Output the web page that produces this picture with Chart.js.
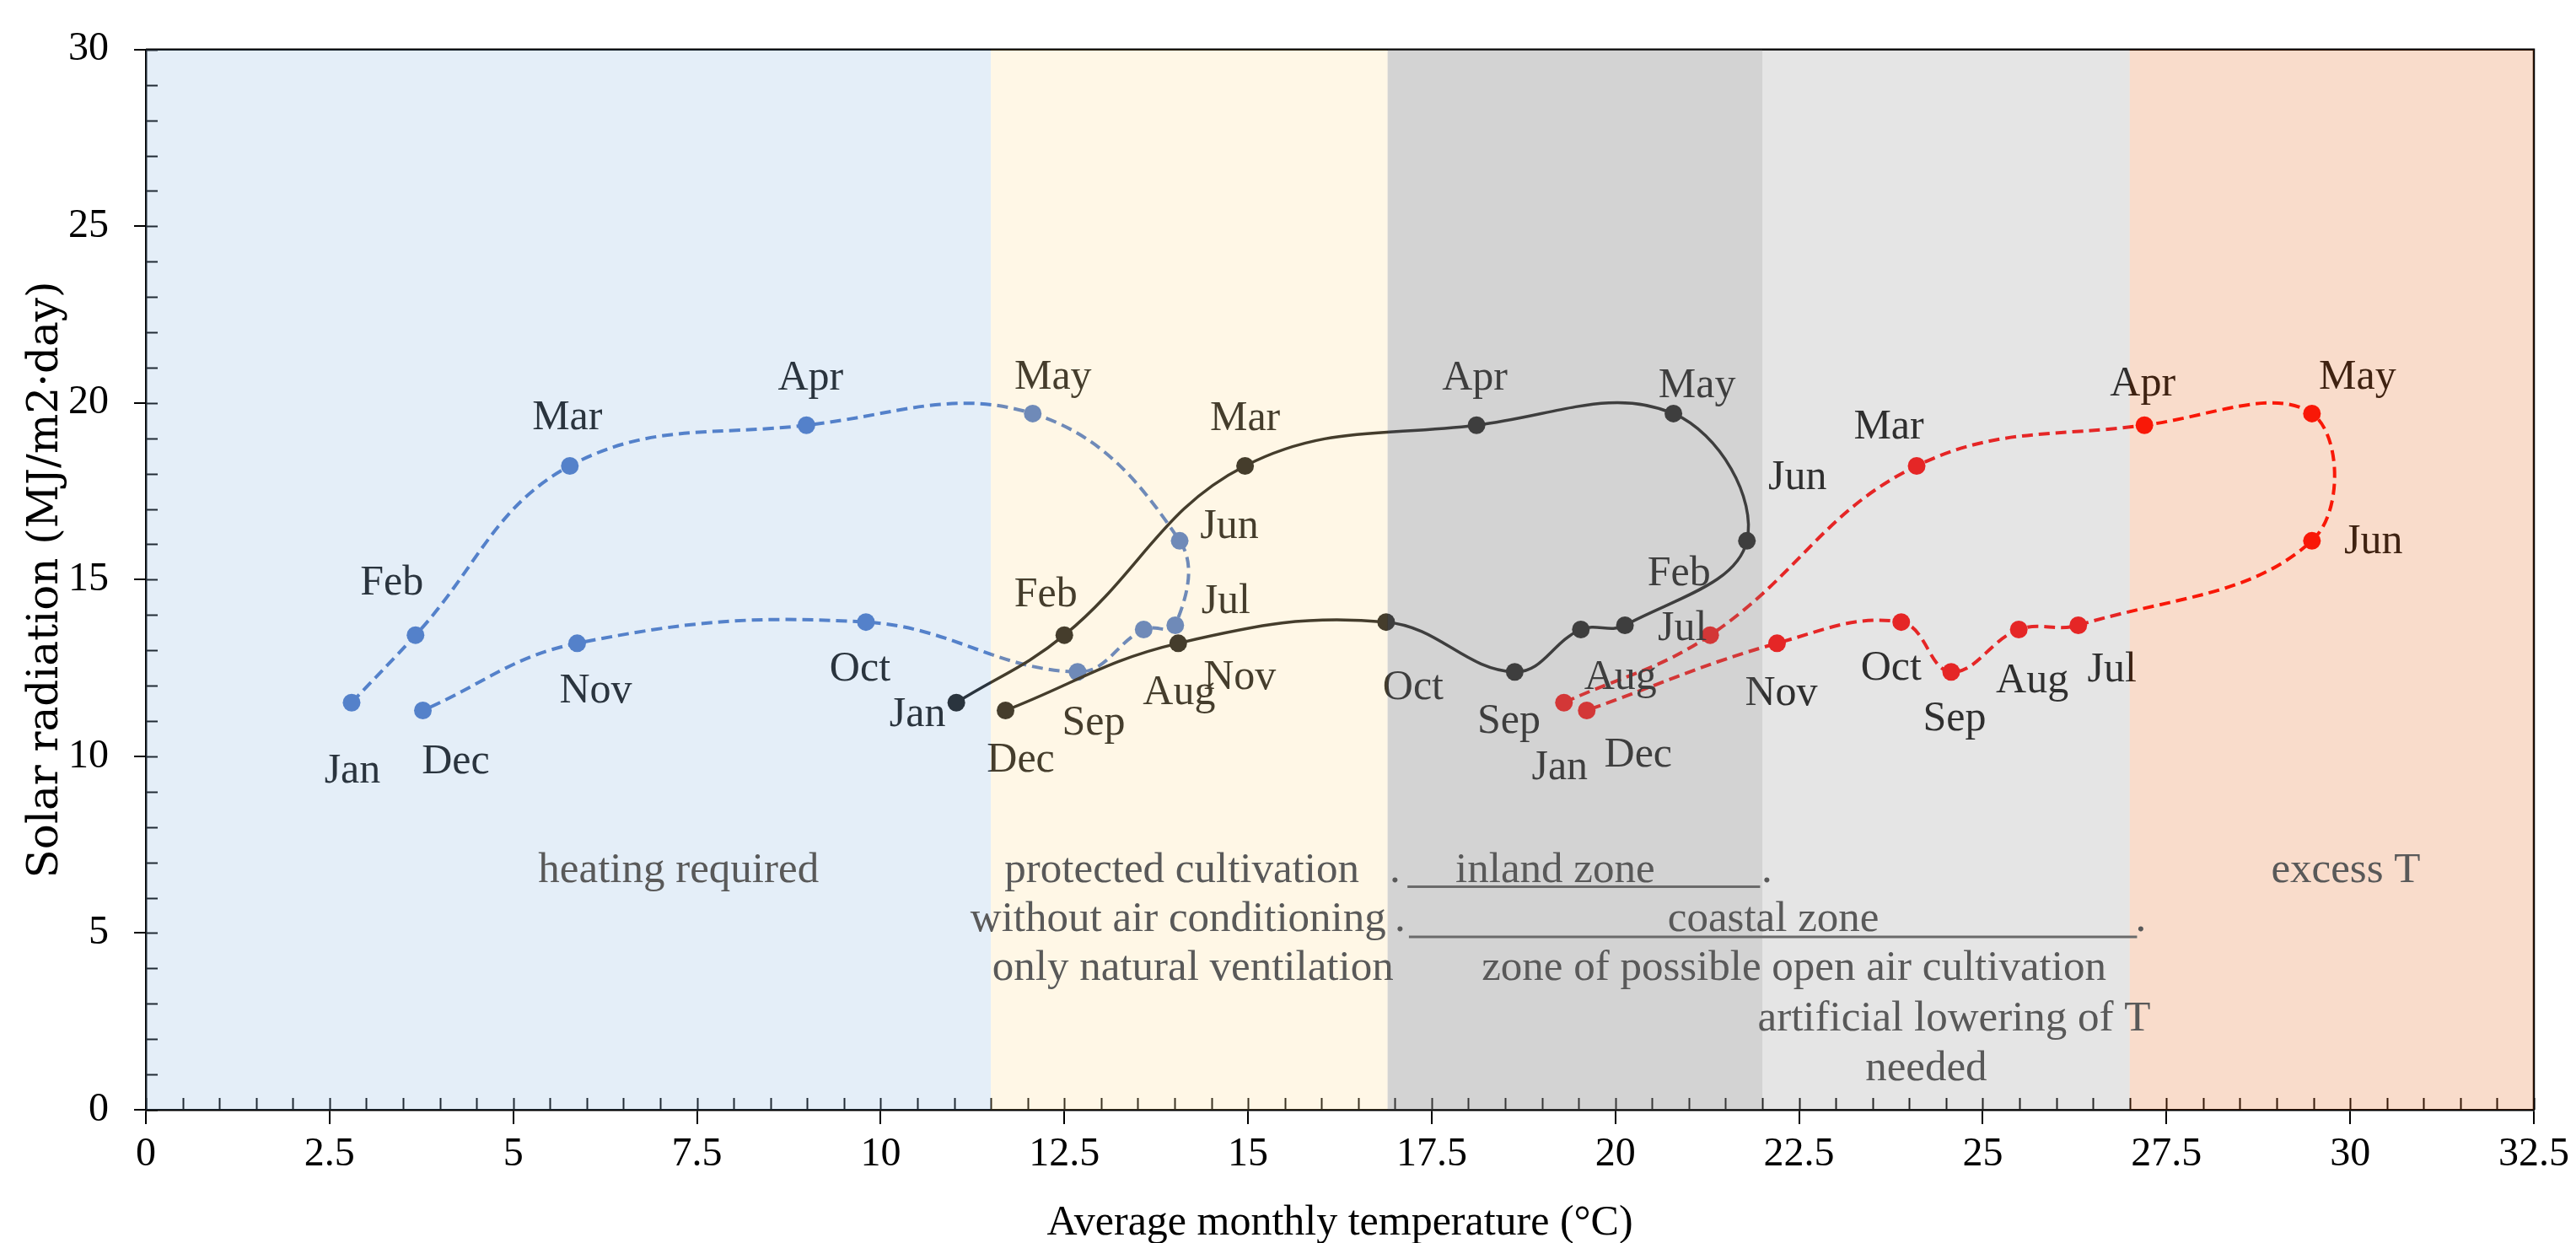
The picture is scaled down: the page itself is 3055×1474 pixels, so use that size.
<!DOCTYPE html>
<html>
<head>
<meta charset="utf-8">
<script src="https://cdn.jsdelivr.net/npm/chart.js@4.4.1/dist/chart.umd.min.js"></script>
<style>
  html, body { margin: 0; padding: 0; background: #fff; }
</style>
</head>
<body>
<canvas id="chart" width="3055" height="1474"></canvas>
<script>
// data
const months = ['Jan', 'Feb', 'Mar', 'Apr', 'May', 'Jun', 'Jul', 'Aug', 'Sep', 'Oct', 'Nov', 'Dec'];
const solarRadiation = [11.52, 13.43, 18.22, 19.37, 19.70, 16.10, 13.71, 13.59, 12.39, 13.80, 13.20, 11.30];
const tempBlue  = [2.80, 3.67, 5.77, 8.99, 12.07, 14.07, 14.01, 13.58, 12.68, 9.80, 5.87, 3.77];
const tempBlack = [11.03, 12.50, 14.96, 18.11, 20.79, 21.79, 20.13, 19.53, 18.63, 16.88, 14.05, 11.70];
const tempRed   = [19.30, 21.29, 24.10, 27.20, 29.48, 29.48, 26.30, 25.49, 24.57, 23.89, 22.20, 19.61];
const zoneLimits = [0, 11.5, 16.9, 22, 27, 32.5];
const xTickValues = [0, 2.5, 5, 7.5, 10, 12.5, 15, 17.5, 20, 22.5, 25, 27.5, 30, 32.5];
const yTickValues = [0, 5, 10, 15, 20, 25, 30];

// where each month label sits relative to its point (px)
const offsBlue  = [[1,82],[-28,-61],[-3,-57],[5,-55],[24,-43],[59,-16],[60,-28],[42,75],[19,61],[-7,56],[22,57],[39,61]];
const offsBlack = [[-46,15],[-22,-47],[0,-56],[-2,-55],[28,-33],[60,-74],[68,4],[47,57],[-7,59],[32,78],[73,41],[18,59]];
const offsRed   = [[-5,78],[-37,-72],[-33,-46],[-2,-48],[54,-43],[73,2],[40,53],[16,61],[4,56],[-12,55],[5,60],[61,53]];

// translucent zone layers (drawn over the curves, like the original)
const zoneFills = [
  'rgba(137,183,225,0.23)',
  'rgba(255,220,146,0.23)',
  'rgba(142,142,142,0.39)',
  'rgba(151,151,151,0.25)',
  'rgba(229,103,29,0.23)'
];

const zoneTexts = [
  { text: 'heating required', x: 7.25, y: 6.44 },
  { text: 'protected cultivation', x: 14.1, y: 6.44 },
  { text: 'without air conditioning', x: 14.05, y: 5.05 },
  { text: 'only natural ventilation', x: 14.25, y: 3.67 },
  { text: 'inland zone', x: 19.18, y: 6.44 },
  { text: 'coastal zone', x: 22.15, y: 5.05 },
  { text: 'zone of possible open air cultivation', x: 22.43, y: 3.67 },
  { text: 'artificial lowering of T', x: 24.61, y: 2.25 },
  { text: 'needed', x: 24.23, y: 0.84 },
  { text: 'excess T', x: 29.94, y: 6.44 }
];
const underlines = [
  { x0: 17.17, x1: 21.97, y: 6.31, dotL: 17.0, dotR: 22.06, base: 6.44 },
  { x0: 17.19, x1: 27.1, y: 4.89, dotL: 17.07, dotR: 27.15, base: 5.05 }
];

const SERIF = "'Liberation Serif', 'Times New Roman', serif";

function points(temps) {
  return months.map((m, i) => ({ x: temps[i], y: solarRadiation[i] }));
}

const zonesPlugin = {
  id: 'zones',
  beforeDatasetsDraw(chart) {
    const { ctx, chartArea: a, scales: { x, y } } = chart;
    ctx.save();
    ctx.strokeStyle = '#000';
    ctx.lineWidth = 2;
    // inner ticks
    for (let v = 0; v <= 32.5001; v += 0.5) {
      const px = Math.round(x.getPixelForValue(v)) + 0.5;
      ctx.beginPath();
      ctx.moveTo(px, a.bottom);
      ctx.lineTo(px, a.bottom - 14);
      ctx.stroke();
    }
    for (let v = 0; v <= 30; v += 1) {
      const py = Math.round(y.getPixelForValue(v)) + 0.5;
      ctx.beginPath();
      ctx.moveTo(a.left, py);
      ctx.lineTo(a.left + 14, py);
      ctx.stroke();
    }
    // frame top / right
    ctx.lineWidth = 2.5;
    ctx.beginPath();
    ctx.moveTo(a.left, a.top);
    ctx.lineTo(a.right, a.top);
    ctx.lineTo(a.right, a.bottom);
    ctx.stroke();
    ctx.restore();
  },
  afterDatasetsDraw(chart) {
    const { ctx, chartArea: a, scales: { x, y } } = chart;
    const offs = [offsBlack, offsRed, offsBlue];
    ctx.save();
    ctx.font = '50px ' + SERIF;
    ctx.fillStyle = '#0d0d0d';
    ctx.textAlign = 'center';
    ctx.textBaseline = 'middle';
    chart.data.datasets.forEach((ds, di) => {
      const meta = chart.getDatasetMeta(di);
      meta.data.forEach((pt, i) => {
        ctx.fillText(months[i], pt.x + offs[di][i][0], pt.y + offs[di][i][1]);
      });
    });

    // zone layers
    for (let i = 0; i < zoneFills.length; i++) {
      const l = x.getPixelForValue(zoneLimits[i]);
      const r = x.getPixelForValue(zoneLimits[i + 1]);
      ctx.fillStyle = zoneFills[i];
      ctx.fillRect(l, a.top, r - l, a.bottom - a.top);
    }

    // zone captions
    ctx.fillStyle = '#595959';
    ctx.font = '51px ' + SERIF;
    ctx.textBaseline = 'alphabetic';
    zoneTexts.forEach(t => {
      ctx.fillText(t.text, x.getPixelForValue(t.x), y.getPixelForValue(t.y));
    });
    ctx.strokeStyle = '#6a6a6a';
    ctx.lineWidth = 3;
    underlines.forEach(u => {
      const py = y.getPixelForValue(u.y);
      ctx.beginPath();
      ctx.moveTo(x.getPixelForValue(u.x0), py);
      ctx.lineTo(x.getPixelForValue(u.x1), py);
      ctx.stroke();
      ctx.fillText('.', x.getPixelForValue(u.dotL), y.getPixelForValue(u.base));
      ctx.fillText('.', x.getPixelForValue(u.dotR), y.getPixelForValue(u.base));
    });
    ctx.restore();
  }
};

const lineCommon = {
  showLine: true,
  tension: 0.4,
  pointRadius: 10.5,
  pointHoverRadius: 10.5,
  pointBorderWidth: 0,
  borderCapStyle: 'butt'
};

new Chart(document.getElementById('chart'), {
  type: 'scatter',
  data: {
    datasets: [
      { ...lineCommon, label: 'Series 2', data: points(tempBlack),
        borderColor: '#0d0d0d', backgroundColor: '#0d0d0d', borderWidth: 3.5 },
      { ...lineCommon, label: 'Series 3', data: points(tempRed),
        borderColor: '#ff0000', backgroundColor: '#ff0000', borderWidth: 4, borderDash: [13, 7] },
      { ...lineCommon, label: 'Series 1', data: points(tempBlue),
        borderColor: '#4472c4', backgroundColor: '#4472c4', borderWidth: 4, borderDash: [13, 7] }
    ]
  },
  options: {
    responsive: false,
    devicePixelRatio: 1,
    animation: false,
    layout: { padding: { top: 56, right: 49, left: 0, bottom: 0 } },
    plugins: { legend: { display: false }, tooltip: { enabled: false } },
    scales: {
      x: {
        type: 'linear', min: 0, max: 32.5,
        afterBuildTicks: s => { s.ticks = xTickValues.map(v => ({ value: v })); },
        afterFit: s => { s.height = 158; },
        ticks: { color: '#000', font: { family: SERIF, size: 48 }, padding: 8, maxRotation: 0,
                 autoSkip: false, callback: v => String(v) },
        grid: { display: true, drawOnChartArea: false, drawTicks: true, tickLength: 17, color: '#000', lineWidth: 2 },
        border: { display: true, color: '#000', width: 2.5 },
        title: { display: true, text: 'Average monthly temperature (°C)', color: '#000',
                 font: { family: SERIF, size: 50, lineHeight: 0.9 }, padding: { top: 0, bottom: 1 } }
      },
      y: {
        type: 'linear', min: 0, max: 30,
        afterBuildTicks: s => { s.ticks = yTickValues.map(v => ({ value: v })); },
        afterFit: s => { s.width = 173; },
        ticks: { color: '#000', font: { family: SERIF, size: 48 }, padding: 30, autoSkip: false,
                 callback: v => String(v) },
        grid: { display: true, drawOnChartArea: false, drawTicks: true, tickLength: 14, color: '#000', lineWidth: 2 },
        border: { display: true, color: '#000', width: 2.5 },
        title: { display: true, text: 'Solar radiation (MJ/m2·day)', color: '#000',
                 font: { family: "'DejaVu Serif', serif", size: 50, lineHeight: 1 }, padding: { top: 30, bottom: 0 } }
      }
    }
  },
  plugins: [zonesPlugin]
});
</script>
</body>
</html>
